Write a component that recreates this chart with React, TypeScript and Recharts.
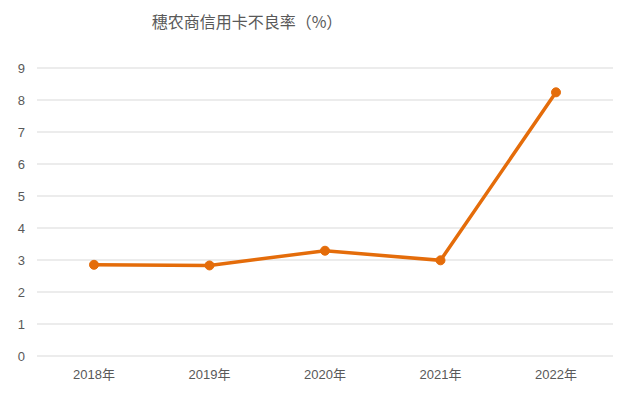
import { LineChart, Line, XAxis, YAxis, CartesianGrid } from 'recharts'

const years = ['2018年', '2019年', '2020年', '2021年', '2022年']
const npl = [2.85, 2.83, 3.29, 2.99, 8.24]
const yTicks = [0, 1, 2, 3, 4, 5, 6, 7, 8, 9]

const chartData = years.map((year, i) => ({ year, value: npl[i] }))

const tickStyle = { fill: '#595959', fontSize: 13, fontFamily: 'Liberation Sans, Noto Sans CJK SC, sans-serif' }

export default function App() {
  return (
    <div style={{ position: 'absolute', left: 0, top: 0, width: 628, height: 395, background: '#fff' }}>
      <div
        style={{
          position: 'absolute',
          left: 0,
          width: 494,
          top: 9,
          textAlign: 'center',
          fontSize: 16,
          color: '#595959',
          fontFamily: 'Noto Sans CJK SC, sans-serif',
        }}
      >
        穗农商信用卡不良率（%）
      </div>
      <LineChart
        width={628}
        height={395}
        data={chartData}
        margin={{ top: 68, right: 15, left: 0, bottom: 0 }}
      >
        <CartesianGrid vertical={false} stroke="#d9d9d9" strokeWidth={1} />
        <XAxis
          dataKey="year"
          height={39}
          padding={{ left: 57, right: 57 }}
          axisLine={false}
          tickLine={false}
          tickSize={0}
          tickMargin={14}
          tick={tickStyle}
        />
        <YAxis
          width={37}
          domain={[0, 9]}
          ticks={yTicks}
          axisLine={false}
          tickLine={false}
          tickSize={0}
          tickMargin={12}
          tick={tickStyle}
        />
        <Line
          type="linear"
          dataKey="value"
          stroke="#E46C0A"
          strokeWidth={3.5}
          dot={{ r: 4.5, fill: '#E46C0A', stroke: '#E46C0A', strokeWidth: 1 }}
          isAnimationActive={false}
        />
      </LineChart>
    </div>
  )
}
